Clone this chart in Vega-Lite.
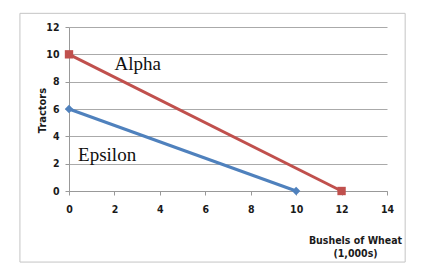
{
  "$schema": "https://vega.github.io/schema/vega-lite/v6.json",
  "width": 318,
  "height": 164,
  "autosize": {"type": "none"},
  "padding": {"left": 69, "top": 27, "right": 42, "bottom": 88},
  "background": "white",
  "config": {
    "view": {"stroke": null},
    "axis": {
      "domainColor": "#999", "tickColor": "#999", "tickSize": 4,
      "labelOverlap": false, "labelFlush": false,
      "labelFont": "DejaVu Sans Condensed, Liberation Sans, sans-serif", "labelFontWeight": "bold", "labelFontSize": 10.5, "labelColor": "#1a1a1a",
      "titleFont": "DejaVu Sans Condensed, Liberation Sans, sans-serif", "titleFontWeight": "bold", "titleColor": "#1a1a1a"
    },
    "axisX": {"grid": false, "tickCount": 7, "labelPadding": 9, "titleFontSize": 10.5,
      "titleX": 286, "titleY": 44, "titleAlign": "center", "titleBaseline": "top", "titleLineHeight": 13},
    "axisY": {"grid": true, "gridColor": "#aaaaaa", "gridWidth": 1, "tickCount": 6, "labelPadding": 6, "titleFontSize": 11,
      "titleX": -27, "titleY": 83, "titleAngle": -90, "titleAlign": "center", "titleBaseline": "middle"}
  },
  "data": {"values": [
    {"series": "Alpha", "x": 0, "y": 10},
    {"series": "Alpha", "x": 12, "y": 0},
    {"series": "Epsilon", "x": 0, "y": 6},
    {"series": "Epsilon", "x": 10, "y": 0}
  ]},
  "encoding": {
    "x": {"field": "x", "type": "quantitative", "scale": {"domain": [0, 14], "nice": false}, "title": ["Bushels of Wheat", "(1,000s)"]},
    "y": {"field": "y", "type": "quantitative", "scale": {"domain": [0, 12], "nice": false}, "title": "Tractors"}
  },
  "layer": [
    {
      "mark": {"type": "line", "strokeWidth": 3},
      "encoding": {
        "color": {"field": "series", "type": "nominal", "scale": {"domain": ["Alpha", "Epsilon"], "range": ["#C0504D", "#4F81BD"]}, "legend": null}
      }
    },
    {
      "mark": {"type": "point", "filled": true, "opacity": 1, "size": 70},
      "encoding": {
        "color": {"field": "series", "type": "nominal", "legend": null},
        "shape": {"field": "series", "type": "nominal", "scale": {"domain": ["Alpha", "Epsilon"], "range": ["square", "diamond"]}, "legend": null}
      }
    },
    {
      "mark": {"type": "text", "font": "Liberation Serif", "fontSize": 19, "align": "left", "baseline": "middle", "color": "#111"},
      "data": {"values": [{"label": "Alpha", "x": 2.0, "y": 9.3}, {"label": "Epsilon", "x": 0.4, "y": 2.6}]},
      "encoding": {
        "text": {"field": "label"}
      }
    },
    {
      "mark": {"type": "rect", "fill": null, "stroke": "#c4c4c4", "strokeWidth": 1, "clip": false},
      "data": {"values": [{"x": -2.16, "x2": 14.8, "y": -5.2, "y2": 13.0}]},
      "encoding": {
        "x2": {"field": "x2"},
        "y2": {"field": "y2"}
      }
    }
  ]
}
